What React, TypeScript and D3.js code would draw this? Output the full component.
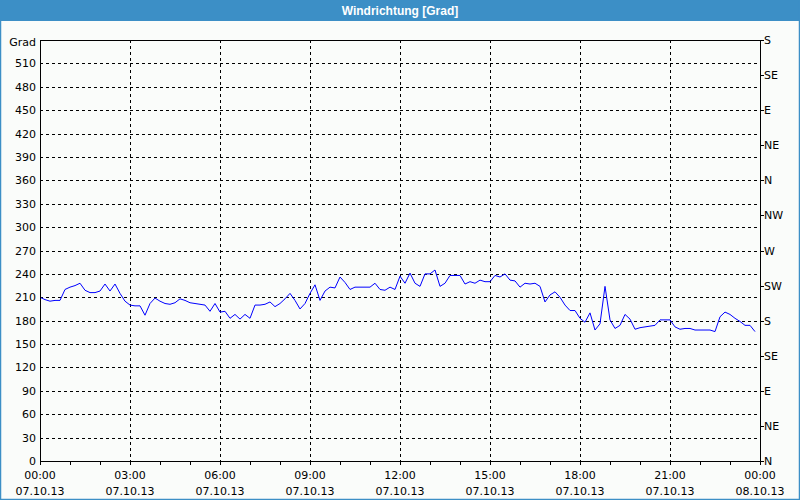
import React from "react";
import * as d3 from "d3";

const title = "Windrichtung [Grad]";
const yUnit = "Grad";
const yTicks = [0, 30, 60, 90, 120, 150, 180, 210, 240, 270, 300, 330, 360, 390, 420, 450, 480, 510];
const compassValues = [0, 45, 90, 135, 180, 225, 270, 315, 360, 405, 450, 495, 540];
const compassLabels = ["N", "NE", "E", "SE", "S", "SW", "W", "NW", "N", "NE", "E", "SE", "S"];
const xTickHours = [0, 3, 6, 9, 12, 15, 18, 21, 24];
const xTimeLabels = ["00:00", "03:00", "06:00", "09:00", "12:00", "15:00", "18:00", "21:00", "00:00"];
const xDateLabels = ["07.10.13", "07.10.13", "07.10.13", "07.10.13", "07.10.13", "07.10.13", "07.10.13", "07.10.13", "08.10.13"];
const stepMinutes = 10;
const direction = [
  210, 207, 205, 206, 206, 220, 223, 225, 228, 219, 216, 216, 218, 227, 218, 227, 215, 205, 200, 199,
  199, 187, 202, 209, 205, 202, 201, 203, 208, 206, 203, 202, 201, 200, 192, 202, 191, 192, 183, 188,
  182, 188, 183, 200, 200, 201, 204, 198, 202, 208, 215, 206, 195, 202, 215, 226, 206, 218, 223, 222,
  236, 229, 220, 223, 223, 223, 223, 228, 220, 219, 223, 220, 237, 228, 241, 228, 224, 240, 240, 245,
  224, 228, 238, 238, 238, 227, 230, 228, 232, 230, 230, 238, 236, 240, 232, 231, 223, 228, 227, 228,
  224, 204, 213, 217, 210, 200, 193, 193, 183, 178, 190, 168, 176, 224, 181, 170, 174, 188, 182, 169,
  171, 172, 173, 174, 181, 181, 181, 172, 169, 170, 170, 168, 168, 168, 168, 166, 185, 191, 188, 183,
  179, 174, 174, 166,
];

export default function App() {
  const W = 800, H = 500;
  const left = 40, right = 760, top = 40, bottom = 461;
  const x = d3.scaleLinear().domain([0, 24 * 60]).range([left, right]);
  const y = d3.scaleLinear().domain([0, 540]).range([bottom, top]);
  const line = d3
    .line<number>()
    .x((_, i) => x(i * stepMinutes))
    .y((d) => y(d));
  const font = "Tahoma, 'DejaVu Sans', sans-serif";
  const hours = d3.range(0, 25);
  return (
    <svg width={W} height={H} style={{ position: "absolute", left: 0, top: 0 }} fontFamily={font}>
      <rect x={0} y={0} width={W} height={H} fill="#fafcfa" />
      <rect x={0} y={0} width={W} height={21} fill="#3c8fc6" />
      <rect x={0.5} y={0.5} width={W - 1} height={H - 1} fill="none" stroke="#3c8fc6" strokeWidth={1.5} />
      <text x={W / 2} y={15} textAnchor="middle" fill="#ffffff" fontSize={12} fontWeight="bold"
        fontFamily="'Liberation Sans', Arial, sans-serif">
        {title}
      </text>
      {yTicks.filter((v) => v > 0).map((v) => (
        <line key={"gy" + v} x1={left} x2={right} y1={Math.round(y(v)) + 0.5} y2={Math.round(y(v)) + 0.5}
          stroke="#000" strokeDasharray="3,3" />
      ))}
      {xTickHours.filter((h) => h > 0 && h < 24).map((h) => (
        <line key={"gx" + h} x1={Math.round(x(h * 60)) + 0.5} x2={Math.round(x(h * 60)) + 0.5} y1={top} y2={bottom}
          stroke="#000" strokeDasharray="3,3" />
      ))}
      <path d={line(direction) || ""} fill="none" stroke="#0000ff" strokeWidth={1} />
      <rect x={left + 0.5} y={top + 0.5} width={right - left} height={bottom - top} fill="none" stroke="#000" strokeWidth={1} />
      {hours.map((h) => (
        <line key={"tx" + h} x1={Math.round(x(h * 60)) + 0.5} x2={Math.round(x(h * 60)) + 0.5} y1={bottom} y2={bottom + 4} stroke="#000" />
      ))}
      {compassValues.map((v) => (
        <line key={"tr" + v} x1={right} x2={right + 4} y1={Math.round(y(v)) + 0.5} y2={Math.round(y(v)) + 0.5} stroke="#000" />
      ))}
      <text x={36} y={y(540) + 6} textAnchor="end" fontSize={11} fill="#000">{yUnit}</text>
      {yTicks.map((v) => (
        <text key={"ly" + v} x={36} y={y(v) + 4} textAnchor="end" fontSize={11} fill="#000">{v}</text>
      ))}
      {compassValues.map((v, i) => (
        <text key={"lr" + v} x={764} y={y(v) + 4} textAnchor="start" fontSize={11} fill="#000">{compassLabels[i]}</text>
      ))}
      {xTickHours.map((h, i) => (
        <g key={"lx" + h}>
          <text x={x(h * 60)} y={479} textAnchor="middle" fontSize={11} fill="#000">{xTimeLabels[i]}</text>
          <text x={x(h * 60)} y={495} textAnchor="middle" fontSize={11} fill="#000">{xDateLabels[i]}</text>
        </g>
      ))}
    </svg>
  );
}
